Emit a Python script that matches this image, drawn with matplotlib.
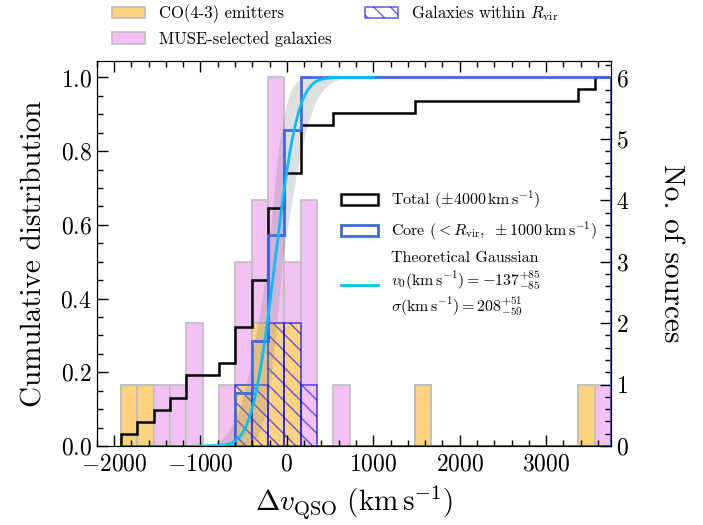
import math

import matplotlib
matplotlib.use("Agg")
import matplotlib.pyplot as plt
import matplotlib.patches as mpatches
from matplotlib.ticker import MultipleLocator
import numpy as np

plt.rcParams["font.family"] = "serif"
plt.rcParams["font.serif"] = ["cmr10"]
plt.rcParams["mathtext.fontset"] = "cm"
plt.rcParams["axes.formatter.use_mathtext"] = True

# ── data ─────────────────────────────────────────────────────────────────────
bin_lo, bin_hi, n_bins = -1920, 3750, 30
edges = np.linspace(bin_lo, bin_hi, n_bins + 1)

# all MUSE-selected galaxies per bin (= total sample, +-4000 km/s)
n_muse = [1, 1, 1, 1, 2, 0, 1, 3, 4, 6, 3, 4, 0, 1, 0,
          0, 0, 0, 1, 0, 0, 0, 0, 0, 0, 0, 0, 0, 1, 1]
# CO(4-3) emitters per bin
n_co = [1, 1, 0, 0, 0, 0, 0, 1, 2, 2, 2, 0, 0, 0, 0,
        0, 0, 0, 1, 0, 0, 0, 0, 0, 0, 0, 0, 0, 1, 0]
# galaxies within R_vir (core) per bin
n_rvir = [0, 0, 0, 0, 0, 0, 0, 1, 1, 2, 2, 1, 0, 0, 0,
          0, 0, 0, 0, 0, 0, 0, 0, 0, 0, 0, 0, 0, 0, 0]

v0, v0_lo, v0_hi = -137, 85, 85
sig, sig_lo, sig_hi = 208, 59, 51

n_muse = np.array(n_muse)
n_co = np.array(n_co)
n_rvir = np.array(n_rvir)
cdf_total = np.cumsum(n_muse) / n_muse.sum()
cdf_core = np.cumsum(n_rvir) / n_rvir.sum()


def gauss_cdf(x, mu, s):
    return np.array([0.5 * (1 + math.erf((xi - mu) / (s * math.sqrt(2)))) for xi in x])


xg = np.linspace(-1000, 1000, 500)
model = gauss_cdf(xg, v0, sig)
curves = [gauss_cdf(xg, m, s)
          for m in (v0 - v0_lo, v0, v0 + v0_hi)
          for s in (sig - sig_lo, sig, sig + sig_hi)]
band_lo = np.min(curves, axis=0)
band_hi = np.max(curves, axis=0)

PINK = "#f4c1f4"
ORANGE = "#ffd280"
EDGE = "#bdbdbd"

# ── figure ───────────────────────────────────────────────────────────────────
fig = plt.figure(figsize=(7.03, 5.25), dpi=100)
ax = fig.add_axes([0.1375, 0.1505, 0.7315, 0.7335])
axr = ax.twinx()
axr.set_zorder(0)
ax.set_zorder(1)
ax.patch.set_visible(False)

w = np.diff(edges)
axr.bar(edges[:-1], n_muse, width=w, align="edge", color=PINK,
        edgecolor=EDGE, linewidth=1.2)
axr.bar(edges[:-1], n_co, width=w, align="edge", color=ORANGE,
        edgecolor=EDGE, linewidth=1.2)
axr.bar(edges[:-1], n_rvir, width=w, align="edge", fill=False, hatch="\\\\",
        edgecolor="blue", alpha=0.6, linewidth=1.2)

ax.fill_between(xg, band_lo, band_hi, color="gray", alpha=0.25, linewidth=0)
ax.stairs(cdf_total, edges, baseline=0, color="black", linewidth=1.8)
ax.stairs(cdf_core, edges, baseline=0, color="royalblue", linewidth=2.0)
ax.plot(xg, model, color="deepskyblue", linewidth=2.0)

ax.set_xlim(-2200, 3750)
ax.set_ylim(0, 1.045)
axr.set_ylim(0, 6 * 1.045)

ax.xaxis.set_major_locator(MultipleLocator(1000))
ax.xaxis.set_minor_locator(MultipleLocator(200))
ax.yaxis.set_major_locator(MultipleLocator(0.2))
ax.yaxis.set_minor_locator(MultipleLocator(0.05))
axr.yaxis.set_major_locator(MultipleLocator(1))
axr.yaxis.set_minor_locator(MultipleLocator(0.2))

ax.tick_params(which="both", direction="in", top=True, right=False, labelsize=17)
ax.tick_params(which="major", length=8, width=1)
ax.tick_params(which="minor", length=4, width=1)
ax.tick_params(axis="x", pad=5)
axr.tick_params(which="both", direction="in", labelsize=17)
axr.tick_params(which="major", length=8, width=1)
axr.tick_params(which="minor", length=4, width=1)

ax.set_xlabel(r"$\Delta v_{\rm QSO}\ (\mathrm{km\,s^{-1}})$", fontsize=21, labelpad=6)
ax.set_ylabel("Cumulative distribution", fontsize=21, labelpad=9)
axr.set_ylabel("No. of sources", fontsize=21, rotation=270, labelpad=40)

# legends
h_co = mpatches.Patch(facecolor=ORANGE, edgecolor=EDGE, lw=1.2)
h_muse = mpatches.Patch(facecolor=PINK, edgecolor=EDGE, lw=1.2)
h_rvir = mpatches.Patch(fill=False, hatch="\\\\", edgecolor="blue", alpha=0.6, lw=1.2)
fig.legend([h_co, h_muse, h_rvir],
           ["CO(4-3) emitters", "MUSE-selected galaxies", r"Galaxies within $R_{\rm vir}$"],
           ncol=2, frameon=False, fontsize=12, loc="upper left",
           bbox_to_anchor=(0.138, 1.022), handlelength=2.0, columnspacing=2.0,
           labelspacing=0.45)

h_tot = mpatches.Patch(facecolor="none", edgecolor="black", lw=1.8)
h_core = mpatches.Patch(facecolor="none", edgecolor="royalblue", lw=2.0)
h_gauss = plt.Line2D([], [], color="deepskyblue", lw=2.0)
ax.legend([h_tot, h_core, h_gauss],
          [r"Total ($\pm 4000\,\mathrm{km\,s^{-1}}$)",
           r"Core ($<R_{\rm vir},\ \pm 1000\,\mathrm{km\,s^{-1}}$)",
           "Theoretical Gaussian\n"
           r"$v_0(\mathrm{km\,s^{-1}}) = -137^{+85}_{-85}$" "\n"
           r"$\sigma(\mathrm{km\,s^{-1}}) = 208^{+51}_{-59}$"],
          frameon=False, fontsize=11.5, loc="center left",
          bbox_to_anchor=(0.448, 0.50), handlelength=2.3, labelspacing=0.55)

fig.savefig("out.png", dpi=100)
